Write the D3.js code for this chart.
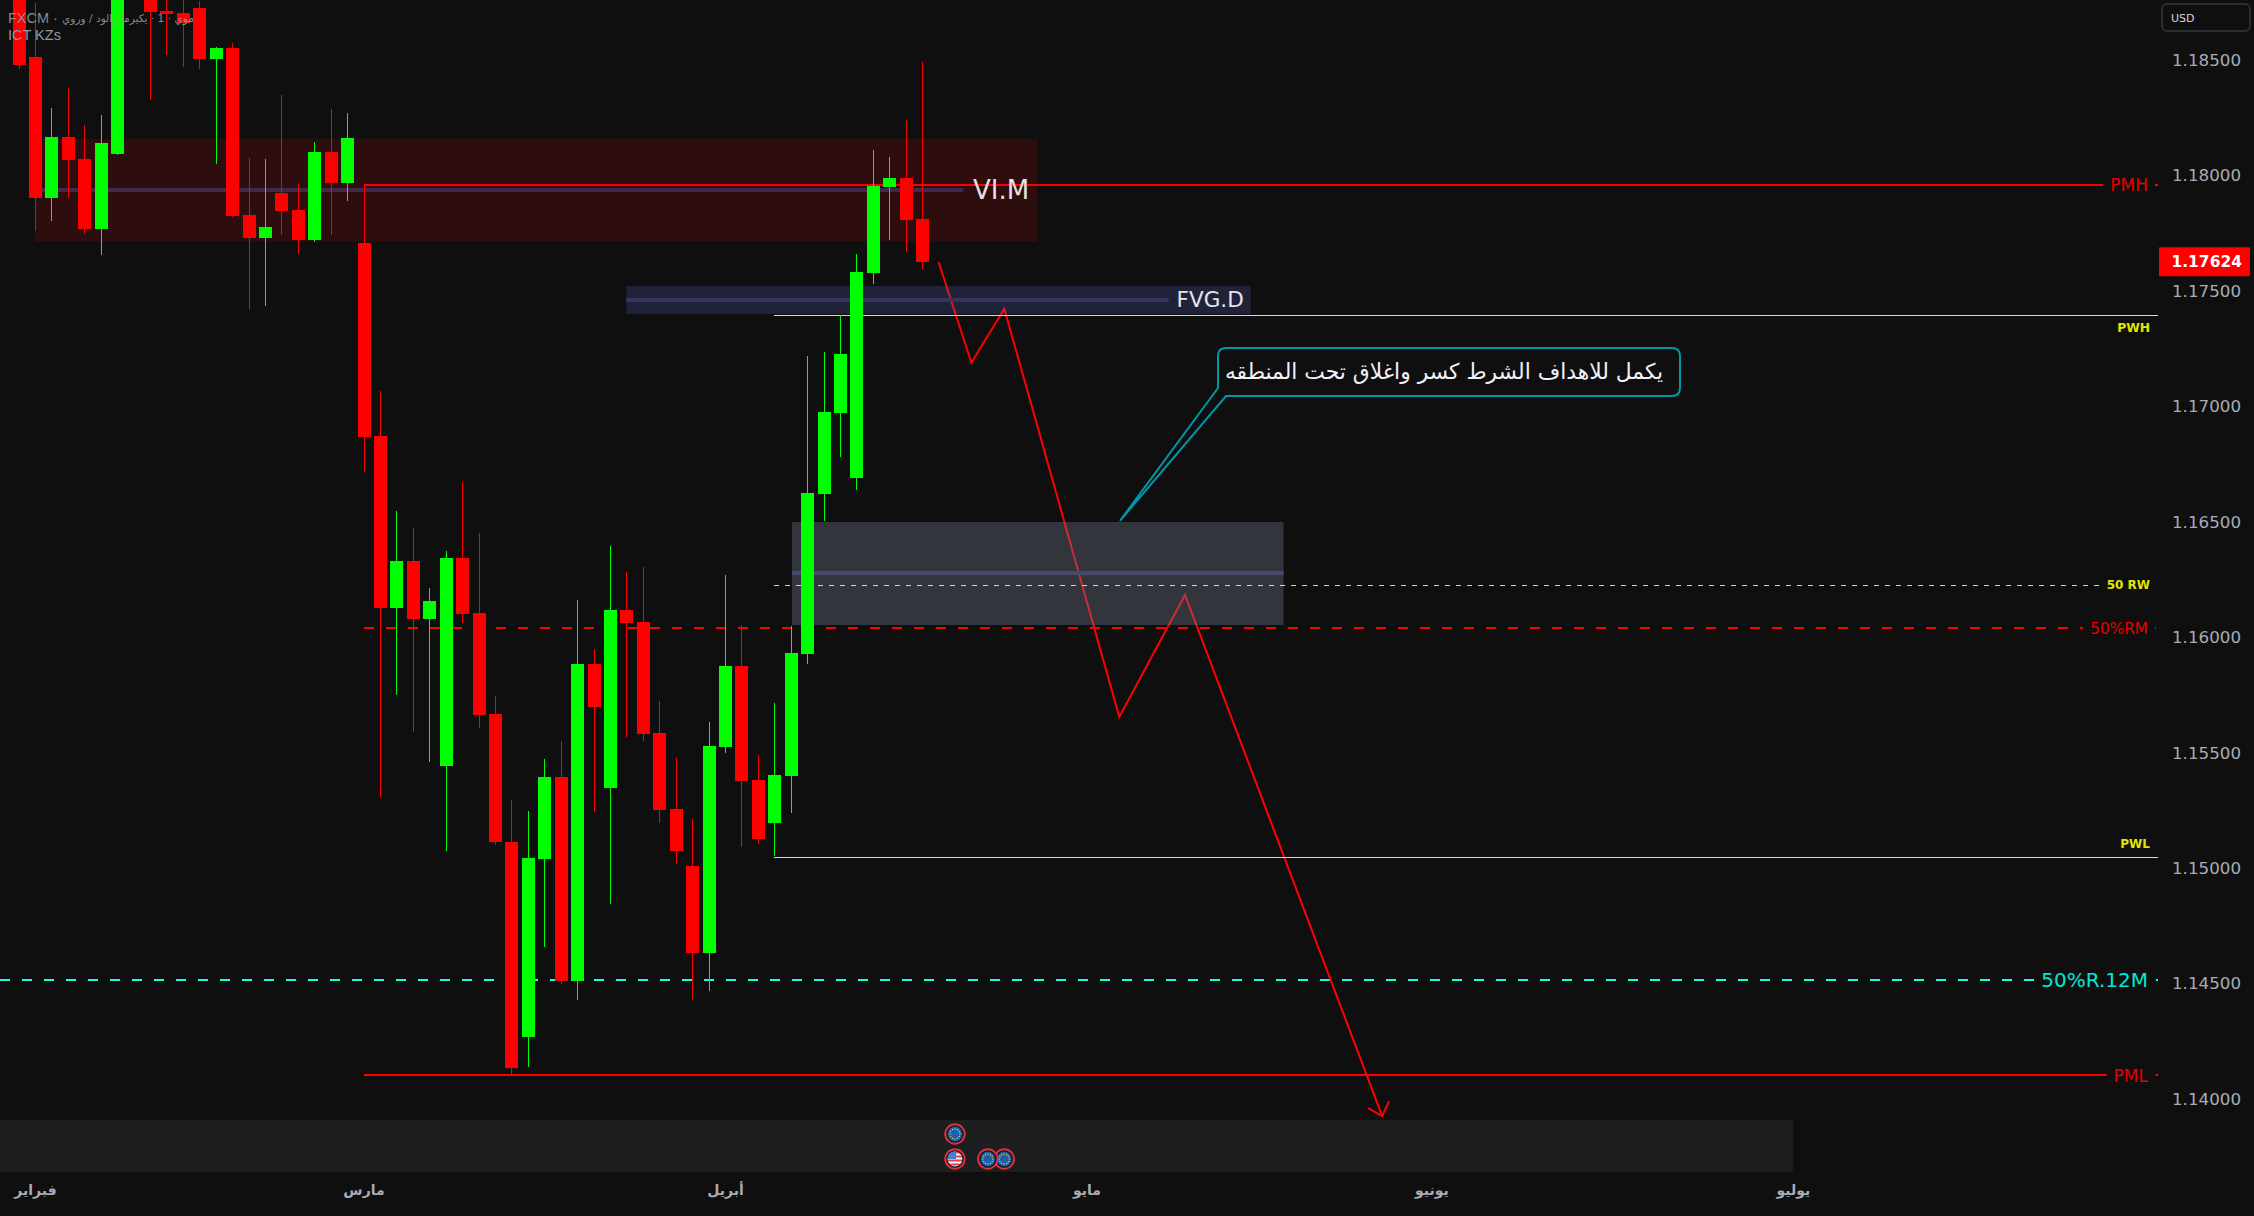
<!DOCTYPE html>
<html><head><meta charset="utf-8">
<script src="https://cdn.jsdelivr.net/npm/d3@7"></script>
<style>html,body{margin:0;padding:0;background:#0f0f0f;overflow:hidden}svg{display:block}</style>
</head><body><svg id="c" width="2254" height="1216"></svg>
<script>
// ---------- values ----------
const opens = [1.18803,1.18513,1.17902,1.18167,1.18071,1.17768,1.18093,1.18868,1.18781,1.18712,1.18704,1.18725,1.18504,1.18552,1.17829,1.17729,1.17924,1.17850,1.17720,1.18102,1.17967,
1.17707,1.16872,1.16127,1.16330,1.16079,1.15442,1.16343,1.16105,1.15668,1.15113,1.14269,1.15040,1.15395,1.14511,1.15884,1.15347,1.16118,1.16066,1.15585,1.15256,1.15009,1.14632,1.15525,1.15875,1.15382,1.15195,1.15399,1.15927,1.16620,1.16971,1.16690,1.17577,1.17950,1.17989,1.17811];
const highs = [1.18846,1.18747,1.18292,1.18379,1.18218,1.18262,1.18933,1.18890,1.18846,1.18781,1.18781,1.18756,1.18556,1.18574,1.18076,1.18071,1.18348,1.17963,1.18145,1.18288,1.18270,
1.17959,1.17066,1.16547,1.16473,1.16213,1.16374,1.16672,1.16451,1.15746,1.15295,1.15247,1.15473,1.15551,1.16161,1.15949,1.16395,1.16283,1.16304,1.15724,1.15477,1.15213,1.15633,1.16270,1.16053,1.15490,1.15715,1.16049,1.17218,1.17235,1.17396,1.17660,1.18110,1.18080,1.18240,1.18491];
const lows = [1.18461,1.17759,1.17803,1.17902,1.17746,1.17655,1.18089,1.18773,1.18327,1.18522,1.18470,1.18461,1.18050,1.17820,1.17417,1.17435,1.17742,1.17660,1.17712,1.17742,1.17889,
1.16716,1.15308,1.15750,1.15590,1.15460,1.15074,1.16062,1.15607,1.15100,1.14108,1.14139,1.14658,1.14498,1.14429,1.15243,1.14845,1.15568,1.15551,1.15195,1.15018,1.14429,1.14468,1.15499,1.15092,1.15105,1.15053,1.15239,1.15884,1.16503,1.16781,1.16638,1.17530,1.17720,1.17668,1.17595];
const closes = [1.18478,1.17902,1.18167,1.18067,1.17768,1.18141,1.18890,1.18795,1.18708,1.18699,1.18660,1.18504,1.18552,1.17824,1.17729,1.17777,1.17846,1.17720,1.18102,1.17967,1.18162,
1.16867,1.16127,1.16330,1.16079,1.16157,1.16343,1.16101,1.15663,1.15113,1.14134,1.15044,1.15395,1.14511,1.15884,1.15698,1.16118,1.16062,1.15581,1.15252,1.15074,1.14632,1.15529,1.15875,1.15377,1.15126,1.15403,1.15932,1.16625,1.16975,1.17227,1.17582,1.17954,1.17989,1.17807,1.17624];
const lastPrice = 1.17624;
const priceTicks = [1.185,1.18,1.175,1.17,1.165,1.16,1.155,1.15,1.145,1.14];
const monthTickBars = [1,21,43,65,86,108];
const monthLabels = ["فبراير","مارس","أبريل","مايو","يونيو","يوليو"];
const levelPMH = 1.17959, levelPML = 1.14106, level12M = 1.14514, levelRM = 1.16040, levelRW = 1.16225, levelPWH = 1.17394, levelPWL = 1.15048;
const zoneVI = [1.18158,1.17937,1.17713];
const zoneFVG = [1.17521,1.17461,1.17400];
const zoneGray = [1.16499,1.16278,1.16053];
const pathBars = [56,58,60,67,71,83];
const pathPrices = [1.17625,1.17189,1.17423,1.15655,1.16183,1.13926];
const calloutText = "يكمل للاهداف الشرط كسر واغلاق تحت المنطقه";
const calloutTipBar = 67.04, calloutTipPrice = 1.16504;
const eventBars = [60,59,57,57];
const eventRows = [1,1,1,0];
const eventKinds = ["eu","eu","us","eu"];

// ---------- scales ----------
const W=2254,H=1216,BG="#0f0f0f",RED="#ff0000",GREEN="#00ff00",YEL="#e2e600",CYAN="#14ffe6",TXT="#a9acb3";
const FONT="'DejaVu Sans',sans-serif";
const x=d3.scaleLinear().domain([0,108]).range([18.5,1792.9]);
const y=d3.scaleLinear().domain([1.14,1.185]).range([1099,60]);
const rightEdge=2158;
const svg=d3.select("#c");
svg.append("rect").attr("width",W).attr("height",H).attr("fill",BG);
const dash="10 12";

function hLine(x0,x1,p,color,w,da){
  svg.append("line").attr("x1",x0).attr("x2",x1).attr("y1",y(p)).attr("y2",y(p))
    .attr("stroke",color).attr("stroke-width",w).attr("stroke-dasharray",da||null).attr("shape-rendering","crispEdges");
}
function zone(i0,i1,vals,fill,op,mid,midEnd){
  svg.append("rect").attr("x",x(i0)).attr("width",x(i1)-x(i0)).attr("y",y(vals[0])).attr("height",y(vals[2])-y(vals[0]))
    .attr("fill",fill).attr("fill-opacity",op);
  svg.append("rect").attr("x",x(i0)).attr("width",x(midEnd)-x(i0)).attr("y",y(vals[1])-2).attr("height",4).attr("fill",mid);
}
function lineLabel(txt,xEnd,yPos,size,color,weight,bg){
  const g=svg.append("g");
  const t=g.append("text").attr("x",xEnd).attr("y",yPos).attr("text-anchor","end").attr("dominant-baseline","central")
    .attr("font-family",FONT).attr("font-size",size).attr("font-weight",weight||400).attr("fill",color).text(txt);
  if(bg){const b=t.node().getBBox();
    g.insert("rect","text").attr("x",b.x-7).attr("width",b.width+14).attr("y",b.y).attr("height",b.height).attr("fill",BG);}
}

// lines below the zones
hLine(0,rightEdge,level12M,CYAN,2,dash);
hLine(x(21),rightEdge,levelRM,RED,2,dash);
hLine(x(21),rightEdge,levelPMH,RED,2);
hLine(x(21),rightEdge,levelPML,RED,2);

// projected path with arrow head
const pathPts=pathBars.map((b,i)=>[x(b),y(pathPrices[i])]);
const tip=pathPts[pathPts.length-1];
const pen=d3.line();
svg.append("path").attr("d",pen(pathPts)).attr("fill","none").attr("stroke",RED).attr("stroke-width",2);
svg.append("path").attr("d",pen([[tip[0]+7,tip[1]-15],tip,[tip[0]-14,tip[1]-8]])).attr("fill","none").attr("stroke",RED).attr("stroke-width",2);

// zones
zone(1,62,zoneVI,"#ff0000",0.125,"#40294d",57.5);
zone(37,75,zoneFVG,"#646ee6",0.2,"#35365c",70);
zone(47.08,77,zoneGray,"#72798e",0.36,"#46496e",77);

// thin yellow lines drawn on top of the zones
hLine(x(46),2100,levelRW,"#e6e63c",1,"5 6");
hLine(x(46),rightEdge,levelPWH,"#e6f03c",1);
hLine(x(46),rightEdge,levelPWL,"#e6f03c",1);

// candles
const idx=d3.range(opens.length);
const col=i=>closes[i]>=opens[i]?GREEN:RED;
svg.append("g").selectAll("line").data(idx).join("line")
  .attr("x1",i=>Math.round(x(i))+0.5).attr("x2",i=>Math.round(x(i))+0.5)
  .attr("y1",i=>y(highs[i])).attr("y2",i=>y(lows[i]))
  .attr("stroke",col).attr("stroke-width",1).attr("shape-rendering","crispEdges");
svg.append("g").selectAll("rect").data(idx).join("rect")
  .attr("x",i=>Math.round(x(i))-6).attr("width",13)
  .attr("y",i=>y(Math.max(opens[i],closes[i])))
  .attr("height",i=>Math.max(1,Math.abs(y(opens[i])-y(closes[i]))))
  .attr("fill",col).attr("shape-rendering","crispEdges");

// zone labels
lineLabel("VI.M",x(62)-8,y(zoneVI[1]),26,"#e8dfe0");
lineLabel("FVG.D",x(75)-7,y(zoneFVG[1]),21.5,"#e8e3e6");

// level labels
lineLabel("PMH",2148,y(levelPMH),17,"#e60000",400,true);
lineLabel("PML",2148,y(levelPML)+1,17,"#e60000",400,true);
lineLabel("50%R.12M",2148,y(level12M),20,"#00e8d8",400,true);
lineLabel("50%RM",2148,y(levelRM)+1,15.3,"#e60000",400,true);
lineLabel("50 RW",2150,y(levelRW),12,YEL,700,true);
lineLabel("PWH",2150,y(levelPWH)+13,12.3,YEL,700);
lineLabel("PWL",2150,y(levelPWL)-13.5,12,YEL,700);

// callout
const bx0=1218,bx1=1680,by0=348,by1=396,r=8;
const tipX=x(calloutTipBar),tipY=y(calloutTipPrice);
svg.append("path").attr("fill","none").attr("stroke","#0097a7").attr("stroke-width",2)
  .attr("d",`M${bx0},388 L${tipX},${tipY} L${bx0+8},${by1} L${bx1-r},${by1} Q${bx1},${by1} ${bx1},${by1-r} L${bx1},${by0+r} Q${bx1},${by0} ${bx1-r},${by0} L${bx0+r},${by0} Q${bx0},${by0} ${bx0},${by0+r} Z`);
svg.append("text").attr("x",1444).attr("y",371).attr("text-anchor","middle").attr("dominant-baseline","central")
  .attr("font-family",FONT).attr("font-size",21.8).attr("fill","#f0f3fa").attr("direction","rtl").text(calloutText);

// events strip
svg.append("rect").attr("x",0).attr("y",1120).attr("width",x(108)).attr("height",52).attr("fill","#1c1e20");
const defs=svg.append("defs");
eventBars.forEach((b,k)=>{
  const cx=x(b),cy=eventRows[k]?1159:1134,id="ic"+k;
  const g=svg.append("g").attr("transform",`translate(${cx},${cy})`);
  g.append("circle").attr("r",9.7).attr("fill","#0f1116").attr("stroke","#e0303f").attr("stroke-width",2);
  defs.append("clipPath").attr("id",id).append("circle").attr("r",7.4);
  if(eventKinds[k]==="eu"){
    g.append("circle").attr("r",7.4).attr("fill","#1560b0");
    g.selectAll(".s").data(d3.range(12)).join("circle").attr("r",0.8).attr("fill","#d8c040")
      .attr("cx",d=>5*Math.cos(d*Math.PI/6)).attr("cy",d=>5*Math.sin(d*Math.PI/6));
  }else{
    const f=g.append("g").attr("clip-path",`url(#${id})`);
    f.append("rect").attr("x",-8).attr("y",-8).attr("width",16).attr("height",16).attr("fill","#f5f5f5");
    d3.range(4).forEach(s=>f.append("rect").attr("x",-8).attr("y",-7.5+s*4).attr("width",16).attr("height",2).attr("fill","#e04050"));
    f.append("rect").attr("x",-8).attr("y",-8).attr("width",9).attr("height",8).attr("fill","#3b82e0");
  }
});

// axes
const yAxis=d3.axisRight(y).tickValues(priceTicks).tickSize(0).tickPadding(0).tickFormat(d3.format(".5f"));
const gy=svg.append("g").attr("transform","translate(2172,0)").call(yAxis);
gy.select(".domain").remove();
gy.selectAll("text").attr("font-family",FONT).attr("font-size",16.7).attr("fill",TXT);

const xAxis=d3.axisBottom(x).tickValues(monthTickBars).tickSize(0).tickPadding(0).tickFormat((d,i)=>monthLabels[i]);
const gx=svg.append("g").attr("transform","translate(0,1185)").call(xAxis);
gx.select(".domain").remove();
gx.selectAll("text").attr("font-family",FONT).attr("font-size",14).attr("font-weight",700).attr("fill",TXT).attr("dy","0.71em").attr("direction","rtl");

// last price tag
svg.append("rect").attr("x",2159).attr("y",y(lastPrice)-15).attr("width",91).attr("height",29).attr("rx",1).attr("fill",RED);
svg.append("text").attr("x",2242).attr("y",y(lastPrice)).attr("text-anchor","end").attr("dominant-baseline","central")
  .attr("font-family",FONT).attr("font-weight",700).attr("font-size",15.5).attr("fill","#fff").text(d3.format(".5f")(lastPrice));

// currency button
svg.append("rect").attr("x",2162).attr("y",4).attr("width",88).attr("height",27).attr("rx",5).attr("fill","none").attr("stroke","#2a2e33").attr("stroke-width",2);
svg.append("text").attr("x",2171).attr("y",18).attr("dominant-baseline","central").attr("font-family",FONT).attr("font-size",11).attr("fill","#d1d4dc").text("USD");

// header text
const head=svg.append("text").attr("x",8).attr("y",18).attr("dominant-baseline","central")
  .attr("font-family","'Liberation Sans',sans-serif").attr("font-size",14.5).attr("fill","#94979e").attr("fill-opacity",0.92);
head.append("tspan").text("FXCM · ");
head.append("tspan").style("direction","ltr").style("unicode-bidi","bidi-override").attr("font-family",FONT).attr("font-size",10.6).text("يورو / دولار أمريكي · 1 · يوم");
svg.append("text").attr("x",8).attr("y",35).attr("dominant-baseline","central")
  .attr("font-family","'Liberation Sans',sans-serif").attr("font-size",14.5).attr("fill","#94979e").text("ICT KZs");
</script></body></html>
